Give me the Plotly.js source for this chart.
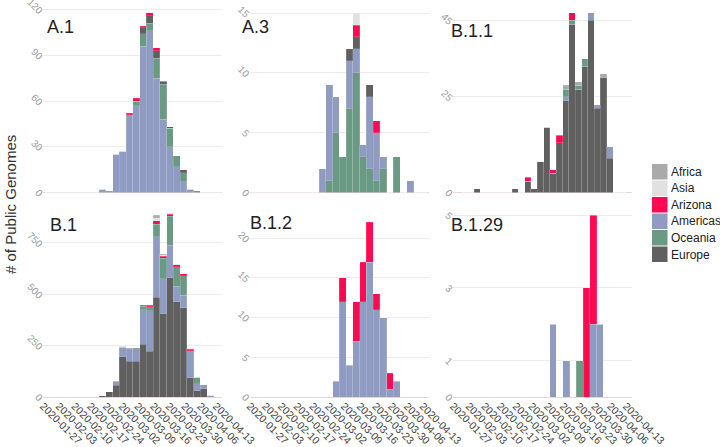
<!DOCTYPE html>
<html>
<head>
<meta charset="utf-8">
<script src="https://cdn.plot.ly/plotly-3.0.1.min.js"></script>
<style>html,body{margin:0;padding:0;background:#fff}#chart{width:720px;height:447px}</style>
</head>
<body>
<div id="chart"></div>
<script>
// ---------- DATA ----------
const binStarts = ['2020-01-28','2020-01-31','2020-02-03','2020-02-06','2020-02-09','2020-02-12','2020-02-15','2020-02-18','2020-02-21','2020-02-24','2020-02-27','2020-03-01','2020-03-04','2020-03-07','2020-03-10','2020-03-13','2020-03-16','2020-03-19','2020-03-22','2020-03-25','2020-03-28','2020-03-31','2020-04-03','2020-04-06','2020-04-09','2020-04-12'];
const tickDates = ['2020-01-27','2020-02-03','2020-02-10','2020-02-17','2020-02-24','2020-03-02','2020-03-09','2020-03-16','2020-03-23','2020-03-30','2020-04-06','2020-04-13'];
const regions = ['Africa','Asia','Arizona','Americas','Oceania','Europe'];
const regionColors = ['#aaaaaa','#e1e1e1','#ff0a52','#8f9bc0','#6b9a84','#606060'];
const panelNames = ['A.1','A.3','B.1.1','B.1','B.1.2','B.1.29'];

const A1_Americas = [0,0,0,0,0,0,0,0,2,1,25,27,51,57,96,106,75,48,30,17,7,2,0,0,0,0];
const A1_Oceania  = [0,0,0,0,0,0,0,0,0,0,0,0,0,3,8,5,13,23,12,7,6,0,1,0,0,0];
const A1_Europe   = [0,0,0,0,0,0,0,0,0,0,0,0,0,0,4,5,5,2,0,0,2,0,0,0,0,0];
const A1_Arizona  = [0,0,0,0,0,0,0,0,0,0,0,0,1,2,1,2,2,0,1,0,0,0,0,0,0,0];

const A3_Oceania  = [0,0,0,0,0,0,0,0,0,0,0,1,5,3,7,10,3,2,1,2,0,3,0,0,0,0];
const A3_Americas = [0,0,0,0,0,0,0,0,0,0,2,8,3,0,4,2,1,6,4,1,0,0,0,1,0,0];
const A3_Europe   = [0,0,0,0,0,0,0,0,0,0,0,0,0,0,1,1,0,1,0,0,0,0,0,0,0,0];
const A3_Arizona  = [0,0,0,0,0,0,0,0,0,0,0,0,0,0,0,1,0,0,1,0,0,0,0,0,0,0];
const A3_Asia     = [0,0,0,0,0,0,0,0,0,0,0,0,0,0,0,1,0,0,0,0,0,0,0,0,0,0];

const B11_Europe   = [0,0,1,0,0,0,0,0,1,0,3,1,8,17,5,13,24,44,27,33,45,22,30,9,0,0];
const B11_Americas = [0,0,0,0,0,0,0,0,0,0,0,0,0,0,0,0,1,0,0,0,2,1,0,3,0,0];
const B11_Oceania  = [0,0,0,0,0,0,0,0,0,0,0,0,0,0,0,0,2,1,1,2,0,0,0,0,0,0];
const B11_Arizona  = [0,0,0,0,0,0,0,0,0,0,1,0,0,0,1,2,0,2,0,0,0,0,0,0,0,0];
const B11_Africa   = [0,0,0,0,0,0,0,0,0,0,0,0,0,0,0,0,1,0,1,0,0,0,1,0,0,0];

const B1_Europe   = [0,0,0,0,1,0,1,2,5,25,58,197,173,173,258,222,485,405,580,465,435,94,30,40,0,0];
const B1_Americas = [0,0,0,0,0,0,0,0,0,0,16,45,65,62,168,197,295,170,160,75,60,126,35,20,8,0];
const B1_Oceania  = [0,0,0,0,0,0,0,0,0,0,0,0,2,5,16,20,62,100,140,95,95,5,30,0,0,0];
const B1_Arizona  = [0,0,0,0,0,0,0,0,0,0,2,3,0,0,5,8,15,10,10,10,10,8,0,0,0,0];
const B1_Asia     = [0,0,0,0,0,0,0,0,0,0,1,4,0,0,2,3,15,8,5,5,3,5,0,0,0,0];
const B1_Africa   = [0,0,0,0,0,0,0,0,0,0,0,0,0,0,0,0,12,5,3,0,0,0,0,0,0,0];

const B12_Americas = [0,0,0,0,0,0,0,0,0,0,0,0,2,12,4,7,12,17,11,10,1,2,0,0,0,0];
const B12_Arizona  = [0,0,0,0,0,0,0,0,0,0,0,0,0,3,0,5,5,5,2,0,2,0,0,0,0,0];

const B129_Americas = [0,0,0,0,0,0,0,0,0,0,0,0,0,0,2,0,1,0,0,0,2,2,0,0,0,0];
const B129_Arizona  = [0,0,0,0,0,0,0,0,0,0,0,0,0,0,0,0,0,0,0,3,3,0,0,0,0,0];
const B129_Oceania  = [0,0,0,0,0,0,0,0,0,0,0,0,0,0,0,0,0,0,1,0,0,0,0,0,0,0];

const A1_yTicks   = [0,30,60,90,120];
const A3_yTicks   = [0,5,10,15];
const B11_yTicks  = [0,25,45];
const B1_yTicks   = [0,250,500,750];
const B12_yTicks  = [0,5,10,15,20];
const B129_yTicks = [0,1,3,5];

// ---------- LAYOUT HELPERS ----------
const W = 720, H = 447;
const colPx = [[43,222],[249.6,428.6],[452.9,631.9]];
const rowPx = [[3.5,192.5],[206,397]];
const xd = c => [colPx[c][0]/W, colPx[c][1]/W];
const yd = r => [1-rowPx[r][1]/H, 1-rowPx[r][0]/H];
const stdRange = ['2020-01-27 00:00','2020-04-15 16:00'];
const b11Range = ['2020-01-23 22:00','2020-04-17 22:00'];
const binMs = 3*86400000;
const FONT = 'Liberation Sans, Arial, sans-serif';

const panels = [
  {series:{Americas:A1_Americas,Oceania:A1_Oceania,Europe:A1_Europe,Arizona:A1_Arizona}, ticks:A1_yTicks, yMax:124, xr:stdRange, row:0,col:0, lab:[45,27]},
  {series:{Oceania:A3_Oceania,Americas:A3_Americas,Europe:A3_Europe,Arizona:A3_Arizona,Asia:A3_Asia}, ticks:A3_yTicks, yMax:15.8, xr:stdRange, row:0,col:1, lab:[240,27]},
  {series:{Europe:B11_Europe,Americas:B11_Americas,Oceania:B11_Oceania,Arizona:B11_Arizona,Africa:B11_Africa}, ticks:B11_yTicks, yMax:49.4, xr:b11Range, row:0,col:2, lab:[449,31]},
  {series:{Europe:B1_Europe,Americas:B1_Americas,Oceania:B1_Oceania,Arizona:B1_Arizona,Asia:B1_Asia,Africa:B1_Africa}, ticks:B1_yTicks, yMax:930, xr:stdRange, row:1,col:0, lab:[48,225]},
  {series:{Americas:B12_Americas,Arizona:B12_Arizona}, ticks:B12_yTicks, yMax:24.07, xr:stdRange, row:1,col:1, lab:[248,223]},
  {series:{Americas:B129_Americas,Arizona:B129_Arizona,Oceania:B129_Oceania}, ticks:B129_yTicks, yMax:5.25, xr:stdRange, row:1,col:2, lab:[449,225]}
];

const baseOrder = ['Europe','Oceania','Americas','Arizona','Asia','Africa'];
const traces = [];
const layout = {
  width:W, height:H, margin:{l:0,r:0,t:0,b:0},
  paper_bgcolor:'#fff', plot_bgcolor:'#fff',
  barmode:'stack', showlegend:false,
  font:{family:FONT, color:'#333'},
  annotations:[], shapes:[]
};

panels.forEach((p,i) => {
  const n = i+1, sfx = n===1 ? '' : String(n);
  const names = baseOrder.filter(r => p.series[r]);
  const tot = r => p.series[r].reduce((a,b)=>a+b,0);
  names.sort((a,b) => tot(b)-tot(a));
  names.forEach(r => {
    traces.push({
      type:'bar', x:binStarts, y:p.series[r], offset:0, width:binMs,
      xaxis:'x'+sfx, yaxis:'y'+sfx, name:r,
      marker:{color:regionColors[regions.indexOf(r)], line:{width:0.5,color:'rgba(255,255,255,0.3)'}},
      hoverinfo:'skip', showlegend:false
    });
  });
  const bottom = p.row===1;
  layout['xaxis'+sfx] = {
    domain:xd(p.col), anchor:'y'+sfx, type:'date', range:p.xr,
    showgrid:false, zeroline:false, showline:false, ticks:'',
    tickmode:'array', tickvals:tickDates, ticktext:tickDates,
    showticklabels:bottom, tickangle:45, ticklabeloverflow:'allow',
    tickfont:{family:FONT, size:10.5, color:'#444'}
  };
  layout['yaxis'+sfx] = {
    domain:yd(p.row), anchor:'x'+sfx, range:[0,p.yMax],
    showgrid:true, gridcolor:'#ececec', gridwidth:1,
    zeroline:true, zerolinecolor:'#e8d6dc', zerolinewidth:1,
    showline:false, ticks:'', tickmode:'array', tickvals:p.ticks,
    tickangle:45, ticklabeloverflow:'allow', ticklabelshift:3,
    tickfont:{family:FONT, size:10, color:'#999'}
  };
  layout.annotations.push({
    xref:'paper', yref:'paper', x:p.lab[0]/W, y:1-p.lab[1]/H,
    xanchor:'left', yanchor:'middle', showarrow:false,
    text:panelNames[i], font:{family:FONT, size:18, color:'#222'}
  });
});

// y title
layout.annotations.push({
  xref:'paper', yref:'paper', x:10/W, y:1-205/H, xanchor:'center', yanchor:'middle',
  showarrow:false, textangle:-90, text:'# of Public Genomes',
  font:{family:FONT, size:15, color:'#333'}
});

// legend (drawn as swatches + labels)
regions.forEach((r,k) => {
  const top = 164 + k*16.5;
  layout.shapes.push({
    type:'rect', xref:'paper', yref:'paper',
    x0:652/W, x1:667.5/W, y0:1-(top+15.5)/H, y1:1-top/H,
    fillcolor:regionColors[k], line:{width:0}
  });
  layout.annotations.push({
    xref:'paper', yref:'paper', x:668.5/W, y:1-(top+8)/H, xanchor:'left', yanchor:'middle',
    showarrow:false, text:r, font:{family:FONT, size:12, color:'#222'}
  });
});

Plotly.newPlot('chart', traces, layout, {staticPlot:true, displayModeBar:false});
</script>
</body>
</html>
